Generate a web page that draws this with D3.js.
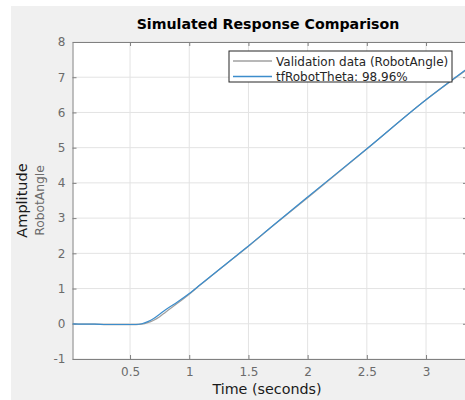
<!DOCTYPE html>
<html>
<head>
<meta charset="utf-8">
<script src="https://cdn.jsdelivr.net/npm/d3@7"></script>
<style>
  body { margin: 0; background: #fff; }
  text { font-family: "DejaVu Sans", sans-serif; }
</style>
</head>
<body>
<div id="chart"></div>
<script>
// data
const time = [0.014, 0.1, 0.2, 0.3, 0.4, 0.5, 0.55, 0.6, 0.65, 0.7, 0.75, 0.8, 0.9, 1.0, 1.1, 1.2, 1.3, 1.4, 1.5, 1.7, 2.0, 2.5, 3.0, 3.346];
const validation = [0.0, -0.01, -0.01, -0.02, -0.02, -0.02, -0.02, -0.01, 0.03, 0.1, 0.2, 0.33, 0.58, 0.84, 1.12, 1.39, 1.66, 1.93, 2.2, 2.76, 3.58, 4.96, 6.36, 7.22];
const model = [0.0, -0.01, -0.01, -0.02, -0.02, -0.02, -0.02, 0.0, 0.06, 0.15, 0.27, 0.4, 0.62, 0.86, 1.13, 1.4, 1.67, 1.94, 2.21, 2.77, 3.6, 4.97, 6.36, 7.24];
const xTicks = [0.5, 1, 1.5, 2, 2.5, 3];
const yTicks = [-1, 0, 1, 2, 3, 4, 5, 6, 7, 8];
const legendLabels = ["Validation data (RobotAngle)", "tfRobotTheta: 98.96%"];
const colors = ["#a0a0a0", "#3c8dcc"];

const width = 465;
const height = 400;
const margin = { top: 42, bottom: 41, left: 72.5, right: -2 };

const svg = d3
    .select("div#chart")
    .append("svg")
    .attr("width", width)
    .attr("height", height);

// figure background
svg.append("rect")
    .attr("x", 11).attr("y", 6)
    .attr("width", width - 11).attr("height", height - 6)
    .attr("fill", "#f0f0f0");

const innerW = width - margin.left - margin.right;
const innerH = height - margin.top - margin.bottom;

const x = d3.scaleLinear().domain([time[0], time[time.length - 1]]).range([0, innerW]);
const y = d3.scaleLinear().domain([-1, 8]).range([innerH, 0]);

const g = svg.append("g")
    .attr("transform", `translate(${margin.left},${margin.top})`);

g.append("rect")
    .attr("width", innerW).attr("height", innerH)
    .attr("fill", "#fff");

// grid
g.selectAll("line.gx").data(xTicks).join("line")
    .attr("class", "gx")
    .attr("x1", d => x(d)).attr("x2", d => x(d))
    .attr("y1", 0).attr("y2", innerH)
    .attr("stroke", "#e3e3e3").attr("stroke-width", 1);
g.selectAll("line.gy").data(yTicks).join("line")
    .attr("class", "gy")
    .attr("x1", 0).attr("x2", innerW)
    .attr("y1", d => y(d)).attr("y2", d => y(d))
    .attr("stroke", "#e3e3e3").attr("stroke-width", 1);

// axes (ticks inside, MATLAB style)
const xAxis = d3.axisBottom(x).tickValues(xTicks).tickSizeInner(-4).tickSizeOuter(0).tickPadding(8).tickFormat(d3.format("~g"));
const yAxis = d3.axisLeft(y).tickValues(yTicks).tickSizeInner(-4).tickSizeOuter(0).tickPadding(7).tickFormat(d => d < 0 ? "-" + Math.abs(d) : d);
const yAxisR = d3.axisRight(y).tickValues(yTicks).tickSizeInner(-4).tickSizeOuter(0).tickFormat("");
const xAxisT = d3.axisTop(x).tickValues(xTicks).tickSizeInner(-4).tickSizeOuter(0).tickFormat("");

function styleAxis(sel) {
    sel.selectAll(".domain").attr("stroke", "#808080");
    sel.selectAll(".tick line").attr("stroke", "#808080");
    sel.selectAll(".tick text").attr("fill", "#6b6b6b").style("font-size", "12px").style("font-family", "DejaVu Sans, sans-serif");
}

g.append("g").attr("transform", `translate(0,${innerH})`).call(xAxis).call(styleAxis);
g.append("g").call(yAxis).call(styleAxis);
g.append("g").attr("transform", `translate(${innerW},0)`).call(yAxisR).call(styleAxis);
g.append("g").call(xAxisT).call(styleAxis);

// lines
svg.append("clipPath").attr("id", "clip")
    .append("rect").attr("width", innerW).attr("height", innerH);

const line = series => d3.line()
    .x((d, i) => x(time[i]))
    .y(d => y(d))
    .curve(d3.curveMonotoneX)(series);

const plot = g.append("g").attr("clip-path", "url(#clip)");
plot.append("path").attr("d", line(validation))
    .attr("fill", "none").attr("stroke", colors[0]).attr("stroke-width", 1.3);
plot.append("path").attr("d", line(model))
    .attr("fill", "none").attr("stroke", colors[1]).attr("stroke-width", 1.2);

// legend
const legend = svg.append("g").attr("transform", "translate(229,51)");
legend.append("rect")
    .attr("width", 223).attr("height", 31)
    .attr("fill", "#fff").attr("stroke", "#262626").attr("stroke-width", 1);
legendLabels.forEach((lab, i) => {
    const ly = 10 + i * 15.5;
    legend.append("line")
        .attr("x1", 4).attr("x2", 43)
        .attr("y1", ly).attr("y2", ly)
        .attr("stroke", colors[i]).attr("stroke-width", 1.3);
    legend.append("text")
        .attr("x", 47).attr("y", ly + 4.5)
        .style("font-size", "12px")
        .attr("fill", "#262626")
        .text(lab);
});

// titles
svg.append("text")
    .attr("x", 268).attr("y", 28.5)
    .attr("text-anchor", "middle")
    .style("font-size", "14.2px").style("font-weight", "bold")
    .attr("fill", "#000")
    .text("Simulated Response Comparison");

svg.append("text")
    .attr("x", 267).attr("y", 394)
    .attr("text-anchor", "middle")
    .style("font-size", "14.3px")
    .attr("fill", "#1a1a1a")
    .text("Time (seconds)");

svg.append("text")
    .attr("transform", `translate(27,${margin.top + innerH / 2}) rotate(-90)`)
    .attr("text-anchor", "middle")
    .style("font-size", "14.5px")
    .attr("fill", "#1a1a1a")
    .text("Amplitude");

svg.append("text")
    .attr("transform", `translate(43.5,${margin.top + innerH / 2}) rotate(-90)`)
    .attr("text-anchor", "middle")
    .style("font-size", "12.3px")
    .attr("fill", "#6b6b6b")
    .text("RobotAngle");
</script>
</body>
</html>
